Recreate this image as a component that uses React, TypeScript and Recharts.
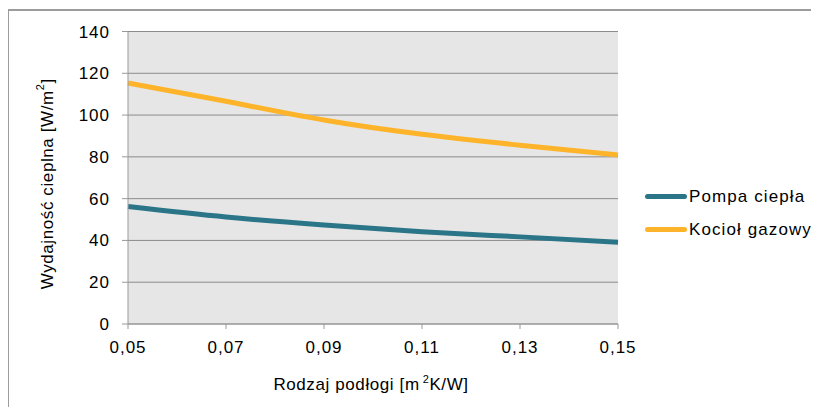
import React from "react";
import {
  LineChart,
  Line,
  XAxis,
  YAxis,
  CartesianGrid,
  Legend,
  Label,
} from "recharts";

// Thermal resistance of floor covering [m2K/W]
const floorResistance = [0.05, 0.07, 0.09, 0.11, 0.13, 0.15];
// Heat output [W/m2]
const heatPump = [56.2, 51.2, 47.4, 44.2, 41.7, 39.1];
const gasBoiler = [115.3, 106.6, 97.6, 90.8, 85.6, 80.9];

const xTicks = [0.05, 0.07, 0.09, 0.11, 0.13, 0.15];
const yTicks = [0, 20, 40, 60, 80, 100, 120, 140];

const seriesNames = ["Pompa ciepła", "Kocioł gazowy"];
const seriesColors = ["#2a7587", "#fdb42a"];

const data = floorResistance.map((r, i) => ({
  r,
  pump: heatPump[i],
  boiler: gasBoiler[i],
}));

const font = "'Liberation Sans', Arial, sans-serif";
const tickStyle = { fontSize: 17, fill: "#000", fontFamily: font, letterSpacing: 1 };

function YTitle(props: any) {
  const vb = props.viewBox;
  const x = vb.x + 39;
  const y = vb.y + vb.height / 2 + 6;
  return (
    <text
      x={x}
      y={y}
      textAnchor="middle"
      dominantBaseline="central"
      transform={`rotate(-90 ${x} ${y})`}
      fontSize={17}
      fontFamily={font}
      letterSpacing={0.6}
      fill="#000"
    >
      Wydajność cieplna [W/m
      <tspan fontSize={11} dy={-7}>2</tspan>
      <tspan dy={7}>]</tspan>
    </text>
  );
}

function XTitle(props: any) {
  const vb = props.viewBox;
  return (
    <text
      x={vb.x + vb.width / 2 - 2}
      y={vb.y + 66}
      textAnchor="middle"
      fontSize={17}
      fontFamily={font}
      letterSpacing={0.6}
      fill="#000"
    >
      Rodzaj podłogi [m
      <tspan fontSize={11} dy={-7} dx={3}>2</tspan>
      <tspan dy={7}>K/W]</tspan>
    </text>
  );
}

function LegendBox() {
  return (
    <div style={{ fontFamily: font, fontSize: 17, letterSpacing: 1.1, color: "#000" }}>
      {seriesNames.map((name, i) => (
        <div
          key={name}
          style={{ display: "flex", alignItems: "center", height: 33 }}
        >
          <span
            style={{
              display: "inline-block",
              width: 42,
              height: 5,
              borderRadius: 3,
              background: seriesColors[i],
              marginRight: 2,
            }}
          />
          <span>{name}</span>
        </div>
      ))}
    </div>
  );
}

export default function App() {
  return (
    <div style={{ position: "relative", width: 811, height: 399 }}>
      <div
        style={{
          position: "absolute",
          left: -1,
          top: 1,
          width: 811,
          height: 398,
          boxSizing: "border-box",
          borderTop: "2px solid #9c9c9c",
          borderLeft: "2px solid #9c9c9c",
        }}
      />
      <LineChart
        width={811}
        height={399}
        data={data}
        margin={{ top: 23.5, right: 201, bottom: 23, left: 0 }}
      >
        <CartesianGrid
          vertical={false}
          fill="#e6e6e6"
          stroke="#8c8c8c"
          strokeWidth={1}
        />
        <XAxis
          dataKey="r"
          type="number"
          domain={[0.05, 0.15]}
          ticks={xTicks}
          tickFormatter={(v: number) => v.toFixed(2).replace(".", ",")}
          tick={tickStyle}
          stroke="#999"
          tickSize={5}
          tickMargin={12}
          height={60}
        >
          <Label content={XTitle} />
        </XAxis>
        <YAxis
          domain={[0, 140]}
          ticks={yTicks}
          tick={tickStyle}
          stroke="#999"
          tickSize={6}
          tickMargin={12}
          width={120}
        >
          <Label content={YTitle} />
        </YAxis>
        <Legend
          layout="vertical"
          align="center"
          verticalAlign="middle"
          wrapperStyle={{ left: 637, top: 172, width: 170 }}
          content={LegendBox}
        />
        <Line
          type="natural"
          dataKey="pump"
          name={seriesNames[0]}
          stroke={seriesColors[0]}
          strokeWidth={5}
          dot={false}
          isAnimationActive={false}
        />
        <Line
          type="natural"
          dataKey="boiler"
          name={seriesNames[1]}
          stroke={seriesColors[1]}
          strokeWidth={5}
          dot={false}
          isAnimationActive={false}
        />
      </LineChart>
    </div>
  );
}
